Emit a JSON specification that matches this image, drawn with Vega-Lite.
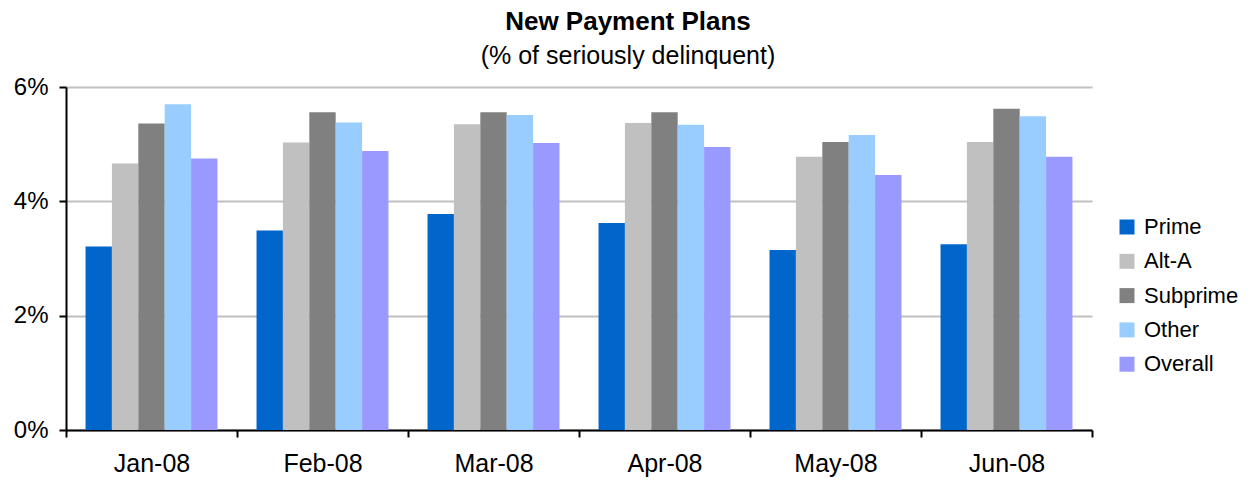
{
  "$schema": "https://vega.github.io/schema/vega-lite/v6.json",
  "width": 1026,
  "height": 343,
  "autosize": {"type": "none"},
  "padding": {"left": 66, "top": 87, "right": 159, "bottom": 51},
  "background": "white",
  "title": {
    "text": "New Payment Plans",
    "subtitle": "(% of seriously delinquent)",
    "font": "Liberation Sans",
    "fontSize": 26,
    "fontWeight": "bold",
    "subtitleFont": "Liberation Sans",
    "subtitleFontSize": 25,
    "subtitleColor": "black",
    "subtitlePadding": 9,
    "color": "black",
    "anchor": "middle",
    "dx": 49,
    "offset": 6
  },
  "data": {
    "values": [
      {"month": "Jan-08", "type": "Prime", "v": 3.21},
      {"month": "Jan-08", "type": "Alt-A", "v": 4.66},
      {"month": "Jan-08", "type": "Subprime", "v": 5.36},
      {"month": "Jan-08", "type": "Other", "v": 5.70},
      {"month": "Jan-08", "type": "Overall", "v": 4.75},
      {"month": "Feb-08", "type": "Prime", "v": 3.49},
      {"month": "Feb-08", "type": "Alt-A", "v": 5.03},
      {"month": "Feb-08", "type": "Subprime", "v": 5.56},
      {"month": "Feb-08", "type": "Other", "v": 5.38},
      {"month": "Feb-08", "type": "Overall", "v": 4.88},
      {"month": "Mar-08", "type": "Prime", "v": 3.78},
      {"month": "Mar-08", "type": "Alt-A", "v": 5.35},
      {"month": "Mar-08", "type": "Subprime", "v": 5.56},
      {"month": "Mar-08", "type": "Other", "v": 5.51},
      {"month": "Mar-08", "type": "Overall", "v": 5.02},
      {"month": "Apr-08", "type": "Prime", "v": 3.62},
      {"month": "Apr-08", "type": "Alt-A", "v": 5.37},
      {"month": "Apr-08", "type": "Subprime", "v": 5.56},
      {"month": "Apr-08", "type": "Other", "v": 5.34},
      {"month": "Apr-08", "type": "Overall", "v": 4.95},
      {"month": "May-08", "type": "Prime", "v": 3.15},
      {"month": "May-08", "type": "Alt-A", "v": 4.78},
      {"month": "May-08", "type": "Subprime", "v": 5.04},
      {"month": "May-08", "type": "Other", "v": 5.16},
      {"month": "May-08", "type": "Overall", "v": 4.46},
      {"month": "Jun-08", "type": "Prime", "v": 3.25},
      {"month": "Jun-08", "type": "Alt-A", "v": 5.04},
      {"month": "Jun-08", "type": "Subprime", "v": 5.62},
      {"month": "Jun-08", "type": "Other", "v": 5.49},
      {"month": "Jun-08", "type": "Overall", "v": 4.78}
    ]
  },
  "mark": {"type": "bar"},
  "encoding": {
    "x": {
      "field": "month",
      "type": "nominal",
      "sort": null,
      "scale": {"paddingInner": 0, "paddingOuter": 0},
      "axis": {
        "title": null,
        "labelAngle": 0,
        "labelFont": "Liberation Sans",
        "labelFontSize": 25,
        "labelColor": "black",
        "labelPadding": 14,
        "domainColor": "black",
        "domainWidth": 2,
        "tickColor": "black",
        "tickWidth": 2,
        "tickSize": 7,
        "tickBand": "extent",
        "grid": false
      }
    },
    "xOffset": {
      "field": "type",
      "type": "nominal",
      "sort": ["Prime", "Alt-A", "Subprime", "Other", "Overall"],
      "scale": {"paddingInner": 0, "paddingOuter": 0.74}
    },
    "y": {
      "field": "v",
      "type": "quantitative",
      "scale": {"domain": [0, 6], "nice": false},
      "axis": {
        "title": null,
        "values": [0, 2, 4, 6],
        "labelExpr": "datum.value + '%'",
        "labelFont": "Liberation Sans",
        "labelFontSize": 24,
        "labelColor": "black",
        "labelPadding": 11,
        "domainColor": "black",
        "domainWidth": 2,
        "tickColor": "black",
        "tickWidth": 2,
        "tickSize": 7,
        "gridColor": "#c0c0c0",
        "gridWidth": 2
      }
    },
    "color": {
      "field": "type",
      "type": "nominal",
      "sort": ["Prime", "Alt-A", "Subprime", "Other", "Overall"],
      "scale": {
        "domain": ["Prime", "Alt-A", "Subprime", "Other", "Overall"],
        "range": ["#0066cc", "#c0c0c0", "#808080", "#99ccff", "#9999ff"]
      },
      "legend": {
        "title": null,
        "orient": "none",
        "legendX": 1050,
        "legendY": 129,
        "symbolType": "square",
        "symbolSize": 225,
        "symbolStrokeWidth": 0,
        "symbolOpacity": 1,
        "labelFont": "Liberation Sans",
        "labelFontSize": 22,
        "labelColor": "black",
        "labelOffset": 6,
        "rowPadding": 12.3
      }
    }
  },
  "config": {
    "view": {"stroke": null},
    "axis": {"gridDash": []}
  }
}
